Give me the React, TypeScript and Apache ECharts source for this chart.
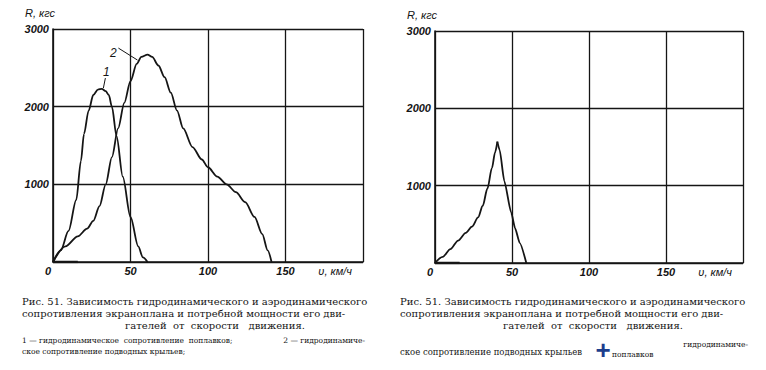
import React, { useEffect, useRef } from "react";
import * as echarts from "echarts";

// ---- data ----
// left panel, curve 1 (float resistance)
const curve1V = [0, 5, 10, 15, 18, 20, 23, 26, 29, 31.5, 34, 36, 38, 41, 45, 50, 55, 58, 61];
const curve1R = [0, 150, 400, 800, 1300, 1650, 1950, 2150, 2220, 2230, 2200, 2150, 2000, 1620, 1100, 580, 200, 60, 0];
// left panel, curve 2 (hydrofoil resistance)
const curve2V = [0, 8, 16, 22, 26, 30, 34, 38, 42, 46, 50, 54, 57, 61, 64, 68, 72, 76, 80, 84, 90, 96, 100, 106, 112, 118, 124, 130, 135, 138.5, 141];
const curve2R = [0, 200, 330, 430, 530, 720, 1000, 1350, 1720, 2050, 2330, 2550, 2640, 2670, 2640, 2530, 2380, 2180, 1950, 1720, 1480, 1320, 1220, 1100, 1000, 900, 770, 580, 360, 150, 0];
// right panel, sum curve: rising and falling branches
const sumRiseV = [0, 5, 10, 15, 20, 24, 28, 31, 34, 37, 39, 40.5];
const sumRiseR = [0, 80, 180, 290, 390, 470, 590, 740, 960, 1230, 1430, 1570];
const sumFallV = [40.5, 42, 45, 49.5, 52, 55, 59.3];
const sumFallR = [1570, 1460, 1060, 650, 450, 260, 0];
// thick stroke along the base line at the origin
const stubV = [0, 16];
const stubR = [0, 0];

// axes
const xMin = 0, xMax = 200, xStep = 50;
const yMin = 0, yMax = 3000, yStep = 1000;
const xName = "υ, км/ч";
const yName = "R, кгс";

// curve labels: [v, R] of the number and its leader line
const label1 = { text: "1", at: [34.4, 2445], from: [33.8, 2368], to: [32.5, 2240] };
const label2 = { text: "2", at: [39, 2690], from: [42.2, 2754], to: [54.5, 2600] };

// captions
const NB = "\u00A0";
const gap = (n: number) => NB.repeat(n);
const capLine1 = "Рис. 51. Зависимость гидродинамического и аэродинамического";
const capLine2 = "сопротивления экраноплана и потребной мощности его дви-";
const capLine3 = `гателей${gap(2)}от${gap(2)}скорости${gap(3)}движения.`;
const noteLeftA = `1 — гидродинамическое${gap(2)}сопротивление${gap(2)}поплавков;`;
const noteLeftB = "2 — гидродинамиче-";
const noteLeftC = "ское сопротивление подводных крыльев;";
const noteRightA = "гидродинамиче-";
const noteRightB = "ское сопротивление подводных крыльев";
const noteRightC = "поплавков";

const zip = (a: number[], b: number[]) => a.map((v, i) => [v, b[i]]);

const INK = "#151515";
const SANS = "Liberation Sans";
const SERIF_NAME = "DejaVu Serif";

function makeX(gridIndex: number) {
  return {
    gridIndex,
    type: "value",
    min: xMin,
    max: xMax,
    interval: xStep,
    axisLine: { show: true, onZero: false, lineStyle: { color: INK, width: 1.6 } },
    axisTick: { show: false },
    splitLine: { show: true, lineStyle: { color: INK, width: 1.3 } },
    axisLabel: {
      margin: 3,
      color: INK,
      fontStyle: "italic",
      fontWeight: "bold",
      fontFamily: SANS,
      fontSize: 11,
      formatter: (v: number) => (v === xMax ? "" : v === 0 ? "{z|0}" : String(v)),
      rich: { z: { padding: [0, 10, 0, 0], fontStyle: "italic", fontWeight: "bold", fontFamily: SANS, fontSize: 11, color: INK } },
    },
    name: xName,
    nameLocation: "end",
    nameGap: -11,
    nameTextStyle: {
      align: "right",
      verticalAlign: "top",
      padding: [3, 0, 0, 0],
      color: INK,
      fontStyle: "italic",
      fontFamily: SANS,
      fontSize: 11,
    },
  };
}

function makeY(gridIndex: number) {
  return {
    gridIndex,
    type: "value",
    min: yMin,
    max: yMax,
    interval: yStep,
    axisLine: { show: true, lineStyle: { color: INK, width: 1.6 } },
    axisTick: { show: false },
    splitLine: { show: true, lineStyle: { color: INK, width: 1.3 } },
    axisLabel: {
      margin: 4,
      color: INK,
      fontStyle: "italic",
      fontWeight: "bold",
      fontFamily: SANS,
      fontSize: 11,
      formatter: (v: number) => (v === 0 ? "" : String(v)),
    },
    name: yName,
    nameLocation: "end",
    nameGap: 16,
    nameTextStyle: {
      align: "right",
      verticalAlign: "middle",
      padding: [0, -2, 0, 0],
      color: INK,
      fontStyle: "italic",
      fontFamily: SANS,
      fontSize: 11,
    },
  };
}

function curve(idx: number, data: number[][], extra: any = {}) {
  return {
    type: "line",
    xAxisIndex: idx,
    yAxisIndex: idx,
    data,
    showSymbol: false,
    symbol: "none",
    smooth: 0.3,
    smoothMonotone: "x",
    lineStyle: { color: INK, width: 1.8 },
    silent: true,
    ...extra,
  };
}

function curveLabel(l: typeof label1) {
  return {
    markPoint: {
      silent: true,
      symbol: "rect",
      symbolSize: 1,
      itemStyle: { color: "rgba(0,0,0,0)" },
      label: {
        show: true,
        position: "inside",
        formatter: l.text,
        color: INK,
        fontStyle: "italic",
        fontFamily: SANS,
        fontSize: 12,
      },
      data: [{ coord: l.at }],
    },
    markLine: {
      silent: true,
      symbol: ["none", "none"],
      label: { show: false },
      lineStyle: { color: INK, width: 1, type: "solid" },
      data: [[{ coord: l.from }, { coord: l.to }]],
    },
  };
}

function txt(x: number, y: number, text: string, size: number, extra: any = {}, family = SERIF_NAME, weight = "normal") {
  return {
    type: "text",
    x,
    y,
    silent: true,
    style: {
      text,
      font: `${weight} ${size}px "${family}"`,
      fill: INK,
      align: "left",
      verticalAlign: "middle",
      ...extra,
    },
  };
}

export default function App() {
  const ref = useRef<HTMLDivElement>(null);
  useEffect(() => {
    if (!ref.current) return;
    const chart = echarts.init(ref.current, undefined, { renderer: "svg" });
    chart.setOption({
      animation: false,
      backgroundColor: "#ffffff",
      grid: [
        { left: 53, top: 29, width: 310, height: 233 },
        { left: 435, top: 31, width: 308, height: 232 },
      ],
      xAxis: [makeX(0), makeX(1)],
      yAxis: [makeY(0), makeY(1)],
      series: [
        curve(0, zip(curve1V, curve1R), curveLabel(label1)),
        curve(0, zip(curve2V, curve2R), curveLabel(label2)),
        curve(0, zip(stubV, stubR), { smooth: false, lineStyle: { color: INK, width: 2.6 } }),
        curve(1, zip(sumRiseV, sumRiseR)),
        curve(1, zip(sumFallV, sumFallR), { smooth: 0.2 }),
        curve(1, zip(stubV, stubR), { smooth: false, lineStyle: { color: INK, width: 2.6 } }),
      ],
      graphic: [
        txt(22, 301, capLine1, 10),
        txt(22, 313, capLine2, 10),
        txt(125, 325, capLine3, 10),
        txt(22, 340, noteLeftA, 7.5),
        txt(365, 340, noteLeftB, 7.5, { align: "right" }),
        txt(22, 351, noteLeftC, 7.5),
        txt(400, 301, capLine1, 10),
        txt(400, 313, capLine2, 10),
        txt(503, 325, capLine3, 10),
        txt(748, 344, noteRightA, 7.5, { align: "right" }),
        txt(400, 352, noteRightB, 8.5),
        txt(603, 350, "+", 26, { align: "center", fill: "#1c3d8c" }, SANS, "bold"),
        txt(612, 354, noteRightC, 7.5),
      ],
    });
    return () => chart.dispose();
  }, []);
  return (
    <div
      ref={ref}
      style={{ position: "fixed", left: 0, top: 0, width: 766, height: 370, background: "#fff" }}
    />
  );
}
